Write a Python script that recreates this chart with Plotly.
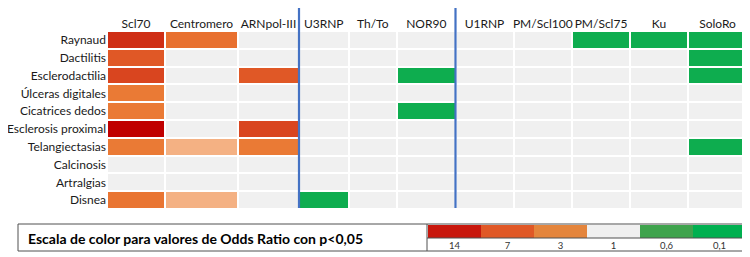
import numpy as np
import plotly.graph_objects as go

# ---- data ----
symptoms = ["Raynaud", "Dactilitis", "Esclerodactilia", "Úlceras digitales", "Cicatrices dedos",
            "Esclerosis proximal", "Telangiectasias", "Calcinosis", "Artralgias", "Disnea"]
antibodies = ["Scl70", "Centromero", "ARNpol-III", "U3RNP", "Th/To", "NOR90",
              "U1RNP", "PM/Scl100", "PM/Scl75", "Ku", "SoloRo"]

# estimated odds ratios (1 = not significant)
or_scl70      = [10, 7, 8, 4, 4, 16, 4, 1, 1, 4.5]
or_centromero = [5, 1, 1, 1, 1, 1, 2, 1, 1, 2]
or_arnpol     = [1, 1, 7, 1, 1, 8, 4, 1, 1, 1]
or_u3rnp      = [1, 1, 1, 1, 1, 1, 1, 1, 1, 0.15]
or_thto       = [1, 1, 1, 1, 1, 1, 1, 1, 1, 1]
or_nor90      = [1, 1, 0.15, 1, 0.15, 1, 1, 1, 1, 1]
or_u1rnp      = [1, 1, 1, 1, 1, 1, 1, 1, 1, 1]
or_pmscl100   = [1, 1, 1, 1, 1, 1, 1, 1, 1, 1]
or_pmscl75    = [0.15, 1, 1, 1, 1, 1, 1, 1, 1, 1]
or_ku         = [0.15, 1, 1, 1, 1, 1, 1, 1, 1, 1]
or_soloro     = [0.15, 0.15, 0.15, 1, 1, 1, 0.15, 1, 1, 1]

legend_values = [14, 7, 3, 1, 0.6, 0.1]
legend_labels = ["14", "7", "3", "1", "0,6", "0,1"]

# ---- layout constants (window pixel coordinates; page body has an 8px margin) ----
WIN_W, WIN_H, OFF = 750, 257, 8
W, H = WIN_W - OFF, WIN_H - OFF


def px(x):
    return (x - OFF) / W


def py(y):
    return 1 - (y - OFF) / H


col_widths = [58, 73, 61, 49.5, 48.5, 58.5, 58, 58.5, 58, 58, 59]
grid_left, grid_top, grid_bottom = 107, 31, 209
group_breaks = [3, 6]  # column indices where the blue separators sit

columns = [or_scl70, or_centromero, or_arnpol, or_u3rnp, or_thto, or_nor90,
           or_u1rnp, or_pmscl100, or_pmscl75, or_ku, or_soloro]
z = np.log10(np.array(columns, dtype=float).T)

edges = np.concatenate([[0], np.cumsum(col_widths)])
centers = (edges[:-1] + edges[1:]) / 2
total_w = edges[-1]

zmin, zmax = np.log10(0.1), np.log10(16)
stops = [(0.1, "#00B050"), (0.6, "#3FA34D"), (1, "#F0F0F0"), (2, "#F4B183"),
         (3, "#E4853C"), (4, "#EA7A35"), (5, "#E8702F"), (7, "#E05826"),
         (8, "#D9451F"), (10, "#CF2E15"), (14, "#C8170C"), (16, "#C00000")]
colorscale = [[(np.log10(v) - zmin) / (zmax - zmin), c] for v, c in stops]

font_family = "Lato, 'Open Sans', sans-serif"
txt_color = "#1a1a1a"

fig = go.Figure()
fig.add_trace(go.Heatmap(
    z=z, x=edges, y=symptoms, colorscale=colorscale, zmin=zmin, zmax=zmax,
    xgap=2, ygap=2, showscale=False, hoverinfo="skip", xaxis="x", yaxis="y"))

fig.add_trace(go.Heatmap(
    z=[np.log10(legend_values)], x=list(range(len(legend_values))), y=[0],
    colorscale=colorscale, zmin=zmin, zmax=zmax, showscale=False,
    hoverinfo="skip", xaxis="x2", yaxis="y2"))

shapes = []
for b in group_breaks:
    shapes.append(dict(type="line", xref="x", yref="paper", x0=edges[b], x1=edges[b],
                       y0=py(8), y1=py(208), line=dict(color="#4472C4", width=2.2)))
# legend box
box_col = "#505050"
shapes.append(dict(type="rect", xref="paper", yref="paper", x0=px(18), x1=px(747),
                   y0=py(251), y1=py(224), line=dict(color=box_col, width=1)))
shapes.append(dict(type="line", xref="paper", yref="paper", x0=px(427), x1=px(427),
                   y0=py(251), y1=py(224), line=dict(color=box_col, width=1)))
shapes.append(dict(type="line", xref="paper", yref="paper", x0=px(427), x1=px(747),
                   y0=py(238), y1=py(238), line=dict(color=box_col, width=1)))

fig.update_layout(
    width=W, height=H, autosize=False,
    margin=dict(l=0, r=0, t=0, b=0),
    paper_bgcolor="white", plot_bgcolor="white",
    font=dict(family=font_family, color=txt_color, size=12),
    shapes=shapes,
    xaxis=dict(domain=[px(grid_left), px(grid_left + total_w)], range=[0, total_w],
               side="top", tickvals=centers, ticktext=antibodies, ticks="",
               showgrid=False, zeroline=False, showline=False, fixedrange=True,
               tickfont=dict(size=12, color=txt_color)),
    yaxis=dict(domain=[py(grid_bottom), py(grid_top)], autorange="reversed",
               ticks="", showgrid=False, zeroline=False, showline=False,
               tickfont=dict(size=12, color=txt_color), ticklabelstandoff=0),
    xaxis2=dict(domain=[px(428), px(746)], anchor="y2", range=[-0.5, len(legend_values) - 0.5],
                tickvals=list(range(len(legend_values))), ticktext=legend_labels, ticks="",
                showgrid=False, zeroline=False, showline=False,
                tickfont=dict(size=9.5, color="#333333")),
    yaxis2=dict(domain=[py(238), py(225)], anchor="x2", range=[-0.5, 0.5],
                showticklabels=False, showgrid=False, zeroline=False),
    annotations=[dict(text="<b>Escala de color para valores de Odds Ratio con p<0,05</b>",
                      xref="paper", yref="paper", x=px(26), y=py(238),
                      xanchor="left", yanchor="middle", showarrow=False,
                      font=dict(size=14, color="#000000", family=font_family))],
)

fig.write_html("out.html")
